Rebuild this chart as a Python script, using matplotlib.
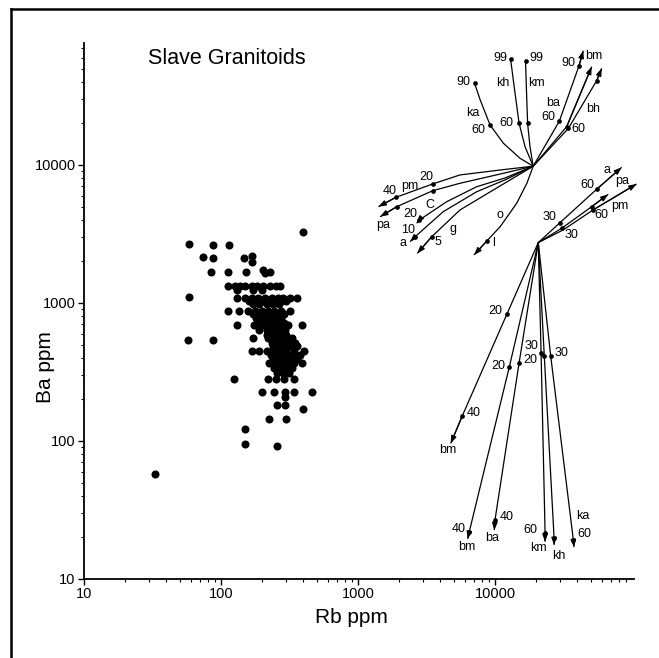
# -*- coding: utf-8 -*-
"""
Slave Granitoids: Rb x Ba (log-log) com vetores de fracionamento.
"""

import matplotlib
matplotlib.use('Agg')
import matplotlib.pyplot as plt
from matplotlib.lines import Line2D
from matplotlib.ticker import LogLocator, NullFormatter, FixedLocator, FixedFormatter

plt.rcParams['font.family'] = ['Liberation Sans', 'DejaVu Sans']

# --- Dados: amostras (linhas de Ba com os valores de Rb) ---
ROW_BA = [3250, 2680, 2630, 2200, 2140, 2110, 1990, 1730, 1690, 1660,
          1335, 1250, 1100, 1080, 1030, 980, 880, 830, 773, 720, 693, 640,
          590, 555, 540, 515, 485, 449, 420, 395, 366, 336, 310, 280, 228,
          209, 182, 171, 144, 122, 95, 92, 58]
ROW_RB = [[399], [58], [87, 114], [167], [74], [88, 146], [169], [201],
          [85, 113, 151, 228], [210],
          [113, 126, 138, 150, 168, 182, 204, 228, 250, 270],
          [130, 170, 200], [58],
          [130, 150, 167, 187, 210, 234, 262, 285, 319, 357],
          [160, 180, 200, 225, 250, 275, 300],
          [170, 190, 215, 240, 265],
          [113, 135, 158, 178, 198, 220, 245, 275, 320],
          [170, 190, 212, 236, 262, 290],
          [180, 200, 222, 248, 275],
          [185, 210, 235, 260, 290],
          [131, 175, 200, 225, 250, 280, 310, 392],
          [190, 215, 240, 265, 295],
          [215, 240, 265, 300],
          [170, 220, 245, 270, 300, 330],
          [57, 87],
          [235, 260, 285, 315, 345],
          [240, 265, 295, 325, 360],
          [167, 190, 215, 240, 270, 300, 340, 405],
          [230, 255, 285, 315, 350, 380],
          [240, 265, 295, 325, 360],
          [225, 250, 275, 305, 340, 390],
          [245, 270, 300, 330],
          [255, 285, 315],
          [125, 222, 250, 290, 340],
          [200, 245, 292, 340, 459],
          [292], [258, 295], [394], [224, 298], [150], [150], [258], [33]]

# --- Vetores: leque superior (origem O1) ---
O1 = (19000, 9800)
KA_RB = [O1[0], 15200, 11500, 9200, 7800, 7100]
KA_BA = [O1[1], 11200, 14400, 19500, 29600, 39000]
KH_RB = [O1[0], 16600, 15000, 14000, 13000]
KH_BA = [O1[1], 13500, 20000, 33200, 58300]
KM_RB = [O1[0], 18000, 17300, 17000, 16700]
KM_BA = [O1[1], 13600, 20000, 33100, 56700]
BM_RB = [O1[0], 29500, 41000, 44100]
BM_BA = [O1[1], 20800, 52200, 67400]
BA_RB = [O1[0], 33400, 50800]
BA_BA = [O1[1], 19000, 51600]
BH_RB = [O1[0], 34300, 55200, 60100]
BH_BA = [O1[1], 18400, 40800, 50200]
PM_RB = [O1[0], 10900, 5550, 3510, 1890, 1410]
PM_BA = [O1[1], 9200, 8470, 7290, 5830, 4990]
PA_RB = [O1[0], 10900, 5550, 3510, 1920, 1450]
PA_BA = [O1[1], 8600, 7370, 6510, 4990, 4220]
C_RB = [O1[0], 11830, 7350, 4440, 2800, 2680]
C_BA = [O1[1], 8050, 6960, 5420, 3990, 3780]
A_RB = [O1[0], 11830, 7350, 4190, 2610, 2400]
A_BA = [O1[1], 7800, 6400, 4590, 3020, 2780]
G_RB = [O1[0], 9720, 5550, 3450, 2710]
G_BA = [O1[1], 6590, 4720, 3020, 2290]
O_RB = [O1[0], 17130, 14400, 10900, 8700, 7030]
O_BA = [O1[1], 7410, 5280, 3570, 2810, 2230]

# --- Vetores: leque inferior (origem O2) ---
O2 = (20700, 2740)
A2_RB = [O2[0], 29800, 55200, 84100]
A2_BA = [O2[1], 3820, 6670, 9620]
PM2_RB = [O2[0], 30700, 50800, 67100]
PM2_BA = [O2[1], 3480, 4990, 6130]
PA2_RB = [O2[0], 31400, 51900, 108000]
PA2_BA = [O2[1], 3380, 4720, 7285]
BMA_RB = [O2[0], 12200, 5770, 4750]
BMA_BA = [O2[1], 828, 152, 96]
BMB_RB = [O2[0], 12700, 6490, 6320]
BMB_BA = [O2[1], 342, 22.0, 19.5]
BA2_RB = [O2[0], 15000, 10000, 9880]
BA2_BA = [O2[1], 369, 26.8, 22.6]
KM2_RB = [O2[0], 21700, 23200, 23200]
KM2_BA = [O2[1], 432, 21.7, 18.6]
KH2_RB = [O2[0], 22900, 27000, 27000]
KH2_BA = [O2[1], 413, 19.7, 17.6]
KA2_RB = [O2[0], 25500, 37300, 37700]
KA2_BA = [O2[1], 413, 19.2, 17.0]

# --- Rótulos dos vetores (texto, Rb, Ba) ---
ROTULOS = [
    ('90', 5840, 40000), ('ka', 6910, 23800), ('60', 7520, 17900),
    ('99', 10900, 59600), ('kh', 11400, 39300), ('60', 12200, 20300),
    ('99', 20200, 59300), ('km', 20200, 39500),
    ('90', 34100, 54800), ('bm', 52200, 61700), ('ba', 26500, 28100),
    ('60', 24400, 22300), ('bh', 52200, 25300), ('60', 40600, 18100),
    ('40', 1710, 6480), ('pm', 2370, 7040), ('20', 3140, 8150),
    ('pa', 1530, 3680), ('20', 2400, 4410), ('C', 3350, 5130),
    ('10', 2320, 3380), ('a', 2140, 2740), ('g', 4960, 3420),
    ('5', 3860, 2780), ('o', 10900, 4340), ('l', 9720, 2710),
    ('a', 65400, 9200), ('60', 47200, 7160), ('pa', 84100, 7690),
    ('pm', 81700, 5050), ('60', 60100, 4340), ('30', 25200, 4220),
    ('30', 36300, 3110),
    ('20', 10000, 879), ('40', 7030, 159), ('bm', 4560, 86),
    ('20', 10600, 351), ('20', 18000, 386), ('30', 18500, 488),
    ('30', 30700, 436), ('40', 5400, 23.0), ('bm', 6220, 17.0),
    ('40', 12200, 28.0), ('ba', 9560, 19.7), ('60', 18000, 22.7),
    ('km', 20700, 16.7), ('kh', 29000, 14.7), ('ka', 43700, 28.6),
    ('60', 44600, 21.2),
]

# --- Fim do bloco de dados ---


def desenhar_vetor(ax, rb, ba, pontos, seta):
    """Linha do vetor, pontos marcados e (opcional) a ponta de seta."""
    ax.plot(rb, ba, color='black', lw=0.9, solid_capstyle='butt',
            clip_on=False, zorder=3)
    ax.plot([rb[i] for i in pontos], [ba[i] for i in pontos], 'o',
            color='black', ms=3.4, mew=0, clip_on=False, zorder=4)
    if seta:
        ax.annotate('', xy=(rb[-1], ba[-1]), xytext=(rb[-2], ba[-2]),
                    arrowprops=dict(arrowstyle='-|>,head_length=0.55,head_width=0.2',
                                    color='black', lw=0.9, shrinkA=0, shrinkB=0,
                                    mutation_scale=8),
                    annotation_clip=False, zorder=4)


fig = plt.figure(figsize=(6.59, 6.58), dpi=100)
W, H = 659, 658
ax = fig.add_axes([84 / W, (H - 579) / H, (634 - 84) / W, (579 - 43) / H])

ax.set_xscale('log')
ax.set_yscale('log')
ax.set_xlim(10, 10 ** (1 + 550 / 137))
ax.set_ylim(10, 10 ** (1 + 536 / 138))

# amostras
rb_todos, ba_todos = [], []
for ba_val, lista_rb in zip(ROW_BA, ROW_RB):
    for r in lista_rb:
        rb_todos.append(r)
        ba_todos.append(ba_val)
ax.plot(rb_todos, ba_todos, 'o', color='black', ms=5.8, mew=0, zorder=2)

# vetores superiores
desenhar_vetor(ax, KA_RB, KA_BA, [3, 5], False)
desenhar_vetor(ax, KH_RB, KH_BA, [2, 4], False)
desenhar_vetor(ax, KM_RB, KM_BA, [2, 4], False)
desenhar_vetor(ax, BM_RB, BM_BA, [1, 2], True)
desenhar_vetor(ax, BA_RB, BA_BA, [1], True)
desenhar_vetor(ax, BH_RB, BH_BA, [1, 2], True)
desenhar_vetor(ax, PM_RB, PM_BA, [3, 4], True)
desenhar_vetor(ax, PA_RB, PA_BA, [3, 4], True)
desenhar_vetor(ax, C_RB, C_BA, [4], True)
desenhar_vetor(ax, A_RB, A_BA, [4], True)
desenhar_vetor(ax, G_RB, G_BA, [3], True)
desenhar_vetor(ax, O_RB, O_BA, [4], True)

# vetores inferiores
desenhar_vetor(ax, A2_RB, A2_BA, [1, 2], True)
desenhar_vetor(ax, PM2_RB, PM2_BA, [1, 2], True)
desenhar_vetor(ax, PA2_RB, PA2_BA, [2], True)
desenhar_vetor(ax, BMA_RB, BMA_BA, [1, 2], True)
desenhar_vetor(ax, BMB_RB, BMB_BA, [1, 2], True)
desenhar_vetor(ax, BA2_RB, BA2_BA, [1, 2], True)
desenhar_vetor(ax, KM2_RB, KM2_BA, [1, 2], True)
desenhar_vetor(ax, KH2_RB, KH2_BA, [1, 2], True)
desenhar_vetor(ax, KA2_RB, KA2_BA, [1, 2], True)

for texto, r, b in ROTULOS:
    ax.text(r, b, texto, fontsize=9, ha='center', va='center',
            clip_on=False, zorder=5)

# eixos
for lado in ['top', 'right']:
    ax.spines[lado].set_visible(False)
for lado in ['left', 'bottom']:
    ax.spines[lado].set_linewidth(1.3)

ax.xaxis.set_major_locator(FixedLocator([10, 100, 1000, 10000]))
ax.xaxis.set_major_formatter(FixedFormatter(['10', '100', '1000', '10000']))
ax.yaxis.set_major_locator(FixedLocator([10, 100, 1000, 10000]))
ax.yaxis.set_major_formatter(FixedFormatter(['10', '100', '1000', '10000']))
ax.xaxis.set_minor_locator(LogLocator(base=10, subs=range(2, 10), numticks=20))
ax.yaxis.set_minor_locator(LogLocator(base=10, subs=range(2, 10), numticks=20))
ax.xaxis.set_minor_formatter(NullFormatter())
ax.yaxis.set_minor_formatter(NullFormatter())
ax.tick_params(which='major', direction='out', length=4, width=1.0,
               labelsize=10.5, pad=2)
ax.tick_params(which='minor', direction='out', length=2.5, width=0.8)

ax.set_xlabel('Rb ppm', fontsize=15)
ax.set_ylabel('Ba ppm', fontsize=15)
ax.xaxis.set_label_coords(0.486, -0.054)
ax.yaxis.set_label_coords(-0.052, 0.396)

ax.text(0.116, 0.972, 'Slave Granitoids', transform=ax.transAxes,
        fontsize=15.5, ha='left', va='center')

# moldura (apenas topo e esquerda visíveis no recorte)
fig.add_artist(Line2D([11 / W, 1.0], [1 - 9 / H, 1 - 9 / H],
                      color='black', lw=1.8, transform=fig.transFigure))
fig.add_artist(Line2D([11 / W, 11 / W], [1 - 9 / H, 0.0],
                      color='black', lw=1.8, transform=fig.transFigure))

fig.savefig('out.png', dpi=100)
